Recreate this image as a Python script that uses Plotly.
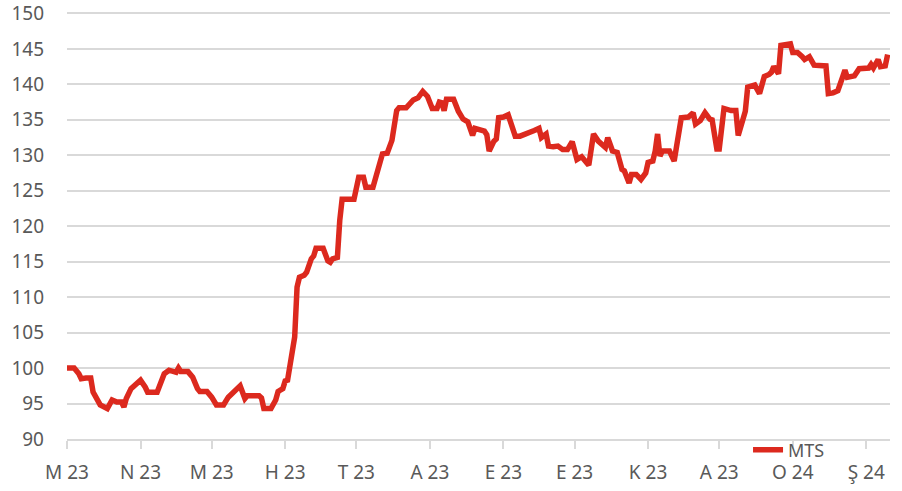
import plotly.graph_objects as go

dates = [
    "2023-03-01", "2023-03-04", "2023-03-06", "2023-03-07", "2023-03-09", "2023-03-11", "2023-03-12",
    "2023-03-14", "2023-03-15", "2023-03-18", "2023-03-20", "2023-03-22", "2023-03-24", "2023-03-25",
    "2023-03-26", "2023-03-28", "2023-03-30", "2023-04-01", "2023-04-03", "2023-04-04", "2023-04-08",
    "2023-04-09", "2023-04-11", "2023-04-13", "2023-04-16", "2023-04-17", "2023-04-18", "2023-04-21",
    "2023-04-23", "2023-04-25", "2023-04-26", "2023-04-29", "2023-05-01", "2023-05-03", "2023-05-06",
    "2023-05-08", "2023-05-10", "2023-05-12", "2023-05-13", "2023-05-15", "2023-05-16", "2023-05-21",
    "2023-05-22", "2023-05-23", "2023-05-26", "2023-05-28", "2023-05-29", "2023-05-31", "2023-06-01",
    "2023-06-02", "2023-06-04", "2023-06-05", "2023-06-06", "2023-06-07", "2023-06-09", "2023-06-10",
    "2023-06-12", "2023-06-13", "2023-06-14", "2023-06-17", "2023-06-19", "2023-06-20", "2023-06-21",
    "2023-06-23", "2023-06-24", "2023-06-25", "2023-06-30", "2023-07-02", "2023-07-04", "2023-07-05",
    "2023-07-08", "2023-07-10", "2023-07-12", "2023-07-14", "2023-07-15", "2023-07-16", "2023-07-18",
    "2023-07-19", "2023-07-22", "2023-07-25", "2023-07-27", "2023-07-29", "2023-07-31", "2023-08-02",
    "2023-08-04", "2023-08-05", "2023-08-06", "2023-08-07", "2023-08-08", "2023-08-11", "2023-08-13",
    "2023-08-15", "2023-08-17", "2023-08-19", "2023-08-20", "2023-08-22", "2023-08-24", "2023-08-25",
    "2023-08-26", "2023-08-28", "2023-08-29", "2023-08-30", "2023-09-01", "2023-09-03", "2023-09-04",
    "2023-09-06", "2023-09-08", "2023-09-11", "2023-09-12", "2023-09-14", "2023-09-16", "2023-09-17",
    "2023-09-19", "2023-09-20", "2023-09-22", "2023-09-24", "2023-09-26", "2023-09-28", "2023-09-30",
    "2023-10-02", "2023-10-04", "2023-10-05", "2023-10-07", "2023-10-09", "2023-10-11", "2023-10-14",
    "2023-10-15", "2023-10-17", "2023-10-19", "2023-10-21", "2023-10-22", "2023-10-24", "2023-10-25",
    "2023-10-27", "2023-10-29", "2023-10-31", "2023-11-01", "2023-11-03", "2023-11-04", "2023-11-05",
    "2023-11-06", "2023-11-07", "2023-11-10", "2023-11-12", "2023-11-15", "2023-11-18", "2023-11-20",
    "2023-11-21", "2023-11-23", "2023-11-25", "2023-11-27", "2023-11-28", "2023-11-30", "2023-12-01",
    "2023-12-03", "2023-12-06", "2023-12-08", "2023-12-09", "2023-12-11", "2023-12-12", "2023-12-13",
    "2023-12-16", "2023-12-18", "2023-12-20", "2023-12-22", "2023-12-23", "2023-12-24", "2023-12-26",
    "2023-12-27", "2023-12-30", "2023-12-31", "2024-01-01", "2024-01-03", "2024-01-05", "2024-01-06",
    "2024-01-08", "2024-01-10", "2024-01-15", "2024-01-16", "2024-01-18", "2024-01-20", "2024-01-22",
    "2024-01-23", "2024-01-24", "2024-01-27", "2024-01-29", "2024-01-31", "2024-02-02", "2024-02-03",
    "2024-02-04", "2024-02-06", "2024-02-07", "2024-02-09", "2024-02-10",
]

mts = [
    100.0, 100.0, 99.2, 98.5, 98.6, 98.6, 96.6,
    95.2, 94.8, 94.3, 95.5, 95.2, 95.2, 94.5,
    95.7, 97.1, 97.7, 98.3, 97.3, 96.6, 96.6,
    97.6, 99.2, 99.7, 99.4, 100.0, 99.5, 99.5,
    98.7, 97.1, 96.7, 96.7, 95.9, 94.8, 94.8,
    95.9, 96.6, 97.3, 97.5, 95.7, 96.1, 96.1,
    95.8, 94.3, 94.3, 95.5, 96.7, 97.1, 98.2,
    98.3, 102.5, 104.4, 111.4, 112.8, 113.1, 113.5,
    115.4, 115.8, 116.9, 116.9, 115.1, 114.9, 115.4,
    115.6, 120.8, 123.8, 123.8, 126.9, 126.9, 125.5,
    125.5, 128.0, 130.2, 130.3, 131.1, 132.1, 136.3,
    136.7, 136.7, 137.8, 138.1, 139.0, 138.3, 136.6,
    136.6, 137.5, 137.4, 136.3, 137.9, 137.9, 136.2,
    135.1, 134.7, 132.8, 133.8, 133.5, 133.4, 132.9,
    130.6, 132.0, 132.3, 135.3, 135.4, 135.7, 134.8,
    132.7, 132.7, 133.0, 133.3, 133.5, 133.8, 132.5,
    133.0, 131.3, 131.2, 131.3, 130.8, 130.8, 131.9,
    129.4, 129.8, 129.4, 128.6, 133.0, 132.0, 131.1,
    132.5, 130.6, 130.4, 128.0, 127.8, 126.1, 127.3,
    127.3, 126.6, 127.5, 129.0, 129.2, 130.6, 133.0,
    129.9, 130.6, 130.6, 129.2, 135.3, 135.4, 136.0,
    134.4, 134.9, 136.0, 135.1, 135.0, 130.9, 130.9,
    136.6, 136.3, 136.3, 132.8, 135.5, 136.2, 139.6,
    139.9, 138.7, 141.1, 141.4, 141.7, 142.5, 141.5,
    145.5, 145.6, 145.7, 144.5, 144.5, 143.9, 143.5,
    143.9, 142.7, 142.6, 138.7, 138.8, 139.1, 141.0,
    142.0, 141.0, 141.2, 142.2, 142.2, 142.3, 142.8,
    142.3, 143.5, 142.5, 142.6, 144.2,
]

tick_dates = [
    "2023-03-01", "2023-04-01", "2023-05-01", "2023-06-01", "2023-07-01", "2023-08-01",
    "2023-09-01", "2023-10-01", "2023-11-01", "2023-12-01", "2024-01-01", "2024-02-01",
]
tick_labels = ["M 23", "N 23", "M 23", "H 23", "T 23", "A 23",
               "E 23", "E 23", "K 23", "A 23", "O 24", "Ş 24"]

y_ticks = list(range(90, 151, 5))

TEXT = "#595959"
GRID = "#d9d9d9"
RED = "#dc291e"
FONT = "Noto Sans"
FS = 19

fig = go.Figure()
fig.add_trace(go.Scatter(
    x=dates, y=mts, mode="lines", name="MTS",
    line=dict(color=RED, width=5.5),
))

fig.update_layout(
    width=902, height=491,
    margin=dict(l=67, r=12, t=12, b=52, autoexpand=False),
    paper_bgcolor="white", plot_bgcolor="white",
    font=dict(family=FONT, size=FS, color=TEXT),
    showlegend=True,
    legend=dict(
        x=0.8275, xanchor="left", y=-0.026, yanchor="middle",
        bgcolor="rgba(0,0,0,0)", font=dict(size=18, color=TEXT),
        borderwidth=0,
    ),
    xaxis=dict(
        type="date", range=["2023-03-01", "2024-02-11"],
        tickmode="array", tickvals=tick_dates, ticktext=tick_labels,
        ticks="outside", ticklen=8, tickwidth=1.5, tickcolor=GRID,
        showline=True, linecolor=GRID, linewidth=1.5,
        showgrid=False, zeroline=False,
        ticklabelstandoff=7, ticklabeloverflow="allow",
        tickfont=dict(size=FS, color=TEXT),
    ),
    yaxis=dict(
        range=[90, 150.2], tickmode="array", tickvals=y_ticks,
        showgrid=True, gridcolor=GRID, gridwidth=1.5,
        zeroline=False, showline=False, ticks="",
        ticklabelstandoff=22, ticklabeloverflow="allow",
        tickfont=dict(size=FS, color=TEXT),
    ),
)

# remove the default 8px page margin so the figure fills the window exactly
fig.write_html(
    "out.html",
    config={"displayModeBar": False},
    post_script="document.body.style.margin='0';",
)
